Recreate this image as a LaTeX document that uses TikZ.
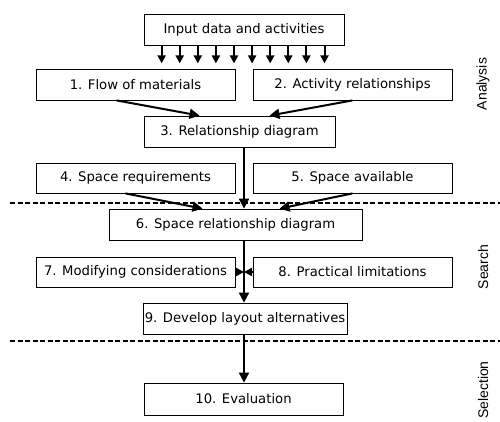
\documentclass[tikz,border=0pt]{standalone}
\usepackage{fontspec}
\setmainfont{DejaVu Sans}
\newfontfamily\phasefont{Liberation Sans}
\usetikzlibrary{arrows.meta}

\tikzset{
  box/.style={draw, line width=0.8pt, minimum width=199pt, minimum height=31pt, inner sep=0pt, font=\fontsize{13.2}{15}\selectfont},
  flowarr/.style={line width=2pt, -{Triangle[length=10pt,width=10pt]}},
  tinyarr/.style={line width=2pt, -{Triangle[length=8pt,width=8pt]}},
  phase/.style={rotate=90, font=\phasefont\fontsize{14}{16}\selectfont},
  divider/.style={line width=1.6pt, dash pattern=on 5pt off 2.5pt}
}

\begin{document}
\begin{tikzpicture}[x=1pt,y=1pt,yscale=-1]
\useasboundingbox (0,0) rectangle (500,421);
\coordinate (spine) at (244,0);
% boxes
\node[box, minimum width=200pt] (input) at (244,29.5) {Input data and activities};
\node[box] (flow) at (135.5,84.5) {1. Flow of materials};
\node[box] (activity) at (352.5,84.5) {2. Activity relationships};
\node[box, minimum width=191pt] (reldiag) at (239.5,131.5) {3. Relationship diagram};
\node[box, minimum height=30pt] (spacereq) at (135.5,178) {4. Space requirements};
\node[box, minimum height=30pt] (spaceav) at (352.5,178) {5. Space available};
\node[box, minimum width=253pt] (spacerel) at (235.5,224.5) {6. Space relationship diagram};
\node[box, minimum height=30pt] (modif) at (135.5,272) {7. Modifying considerations};
\node[box, minimum height=30pt] (practical) at (352.5,272) {8. Practical limitations};
\node[box, minimum width=204pt] (develop) at (245,318.5) {9. Develop layout alternatives};
\node[box, minimum width=199pt, minimum height=32pt] (evaluation) at (243.5,399) {10. Evaluation};
% phases
\node[phase] (analysis) at (483,84) {Analysis};
\node[phase] (search) at (483,267) {Search};
\node[phase] (selection) at (483,390) {Selection};
% dividers
\draw[divider] (10,203) -- (500,203);
\draw[divider] (10,341) -- (500,341);
% arrows
\foreach \i in {0,...,9}
  \draw[tinyarr] ([xshift={18+18.1*\i}]input.south west) -- ++(0,18);
\draw[flowarr] ([xshift=-19pt]flow.south) -- ([xshift=-40pt]reldiag.north);
\draw[flowarr] (activity.south) -- ([xshift=30pt]reldiag.north);
\draw[flowarr] (reldiag.south -| spine) -- (spacerel.north -| spine);
\draw[flowarr] ([xshift=-10pt]spacereq.south) -- ([xshift=-33pt]spacerel.north);
\draw[flowarr] (spaceav.south) -- ([xshift=44pt]spacerel.north);
\draw[flowarr] (spacerel.south -| spine) -- (develop.north -| spine);
\draw[tinyarr] (modif.east) -- (modif.east -| spine);
\draw[tinyarr] (practical.west) -- (practical.west -| spine);
\draw[flowarr] (develop.south -| spine) -- (evaluation.north -| spine);
\end{tikzpicture}
\end{document}
